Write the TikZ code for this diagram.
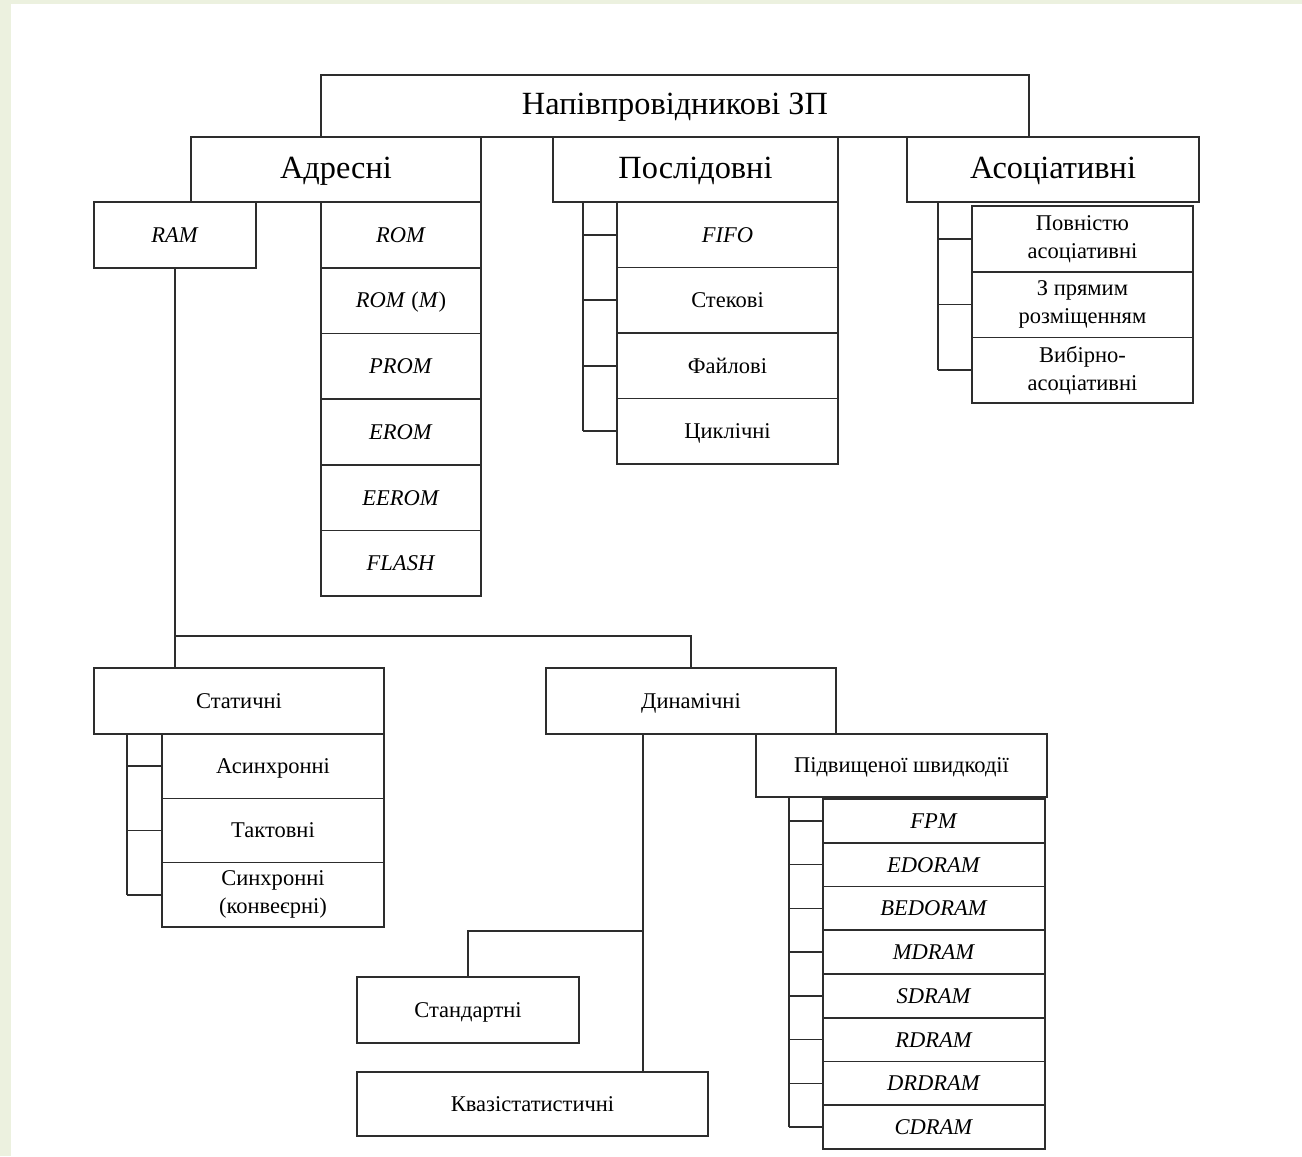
\documentclass[tikz,border=0pt]{standalone}
\usepackage{fontspec}
\setmainfont{Liberation Serif}
\usetikzlibrary{calc,positioning}
\definecolor{pagegreen}{RGB}{236,241,223}
\definecolor{inkgray}{RGB}{45,45,45}

\tikzset{
	box/.style={draw=inkgray, line width=0.45pt, rectangle, inner sep=1pt, align=center, text=black},
	bigtxt/.style={font=\fontsize{9.2}{11}\selectfont, text height=6.4pt, text depth=1.4pt},
	smalltxt/.style={font=\fontsize{6.4}{8}\selectfont},
	oneline/.style={text height=4.2pt, text depth=0pt},
	twoline/.style={yshift=-0.03cm},
	link/.style={draw=inkgray, line width=0.45pt}
}

\begin{document}
\begin{tikzpicture}[x=0.01cm, y=-0.01cm]
	\useasboundingbox (0,0) rectangle (1302,1156);
	\fill[white] (0,0) rectangle (1302,1156);
	\fill[pagegreen] (0,0) rectangle (11,1156);
	\fill[pagegreen] (0,0) rectangle (1302,3.7);

	% top and second level
	\node[box, bigtxt, minimum width=7.08cm, minimum height=0.62cm] (semi) at (675,106) {Напівпровідникові ЗП};
	\node[box, bigtxt, minimum width=2.90cm, minimum height=0.65cm] (adr) at (336,169.5) {Адресні};
	\node[box, bigtxt, minimum width=2.85cm, minimum height=0.65cm] (posl) at (695.5,169.5) {Послідовні};
	\node[box, bigtxt, minimum width=2.92cm, minimum height=0.65cm] (asoc) at (1053,169.5) {Асоціативні};

	% addressed
	\node[box, smalltxt, oneline, minimum width=1.62cm, minimum height=0.66cm] (ram) at (175,235) {\textit{RAM}};
	\foreach \lbl [count=\i from 0] in {\textit{ROM}, {\textit{ROM} (\textit{M})}, \textit{PROM}, \textit{EROM}, \textit{EEROM}, \textit{FLASH}}
		\node[box, smalltxt, oneline, minimum width=1.60cm, minimum height=0.657cm] (rom\i) at (401,234.85+65.7*\i) {\lbl};

	% sequential
	\foreach \nm/\lbl [count=\i from 0] in {fifo/\textit{FIFO}, stek/Стекові, fajl/Файлові, cykl/Циклічні}
		\node[box, smalltxt, oneline, minimum width=2.21cm, minimum height=0.655cm] (\nm) at (727.5,234.75+65.5*\i) {\lbl};
	\coordinate (pbr) at (583,202);
	\draw[link] (pbr) -- (pbr |- cykl.west);
	\foreach \nm in {fifo,stek,fajl,cykl}
		\draw[link] (pbr |- \nm.west) -- (\nm.west);

	% associative
	\foreach \nm/\lbl [count=\i from 0] in {full/{Повністю\\асоціативні}, direct/{З прямим\\розміщенням}, setas/{Вибірно-\\асоціативні}}
		\node[box, smalltxt, minimum width=2.21cm, minimum height=0.657cm] (\nm) at (1082.5,238.85+65.7*\i) {\lbl};
	\coordinate (abr) at (938,202);
	\draw[link] (abr) -- (abr |- setas.west);
	\foreach \nm in {full,direct,setas}
		\draw[link] (abr |- \nm.west) -- (\nm.west);

	% static / dynamic
	\node[box, smalltxt, oneline, minimum width=2.90cm, minimum height=0.66cm] (stat) at (239,701) {Статичні};
	\node[box, smalltxt, oneline, minimum width=2.90cm, minimum height=0.66cm] (dyn) at (691,701) {Динамічні};
	\coordinate (rbus) at (176,636);
	\draw[link] (ram.south) -- (ram.south |- stat.north);
	\draw[link] (rbus) -| (dyn.north);

	\foreach \nm/\lbl [count=\i from 0] in {async/Асинхронні, takt/Тактовні}
		\node[box, smalltxt, oneline, minimum width=2.22cm, minimum height=0.643cm] (\nm) at (273,766.15+64.3*\i) {\lbl};
	\node[box, smalltxt, minimum width=2.22cm, minimum height=0.643cm] (sync) at (273,894.75) {Синхронні\\(конвеєрні)};
	\coordinate (sbr) at (127,734);
	\draw[link] (sbr) -- (sbr |- sync.west);
	\foreach \nm in {async,takt,sync}
		\draw[link] (sbr |- \nm.west) -- (\nm.west);

	% dynamic branches
	\node[box, smalltxt, oneline, minimum width=2.91cm, minimum height=0.63cm] (fast) at (901.5,765.5) {Підвищеної швидкодії};
	\foreach \lbl [count=\i from 0] in {FPM, EDORAM, BEDORAM, MDRAM, SDRAM, RDRAM, DRDRAM, CDRAM}
		\node[box, smalltxt, oneline, minimum width=2.22cm, minimum height=0.4375cm] (fs\i) at (934,820.9+43.75*\i) {\textit{\lbl}};
	\coordinate (fbr) at (789,797);
	\draw[link] (fbr) -- (fbr |- fs7.west);
	\foreach \i in {0,...,7}
		\draw[link] (fbr |- fs\i.west) -- (fs\i.west);

	\node[box, smalltxt, oneline, minimum width=2.22cm, minimum height=0.66cm] (std) at (468,1010) {Стандартні};
	\node[box, smalltxt, oneline, minimum width=3.51cm, minimum height=0.64cm] (quasi) at (532.5,1104) {Квазістатистичні};
	\coordinate (dtop) at (643,734);
	\coordinate (dtap) at (643,931);
	\draw[link] (dtop) -- (dtop |- quasi.north);
	\draw[link] (dtap) -| (std.north);
\end{tikzpicture}
\end{document}
